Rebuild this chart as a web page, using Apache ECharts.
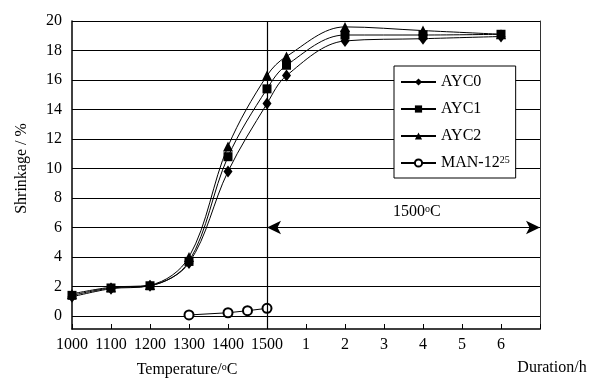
<!DOCTYPE html>
<html>
<head>
<meta charset="utf-8">
<script src="https://cdn.jsdelivr.net/npm/echarts@6/dist/echarts.min.js"></script>
<style>
  html, body { margin: 0; padding: 0; background: #fff; }
  #main { width: 601px; height: 379px; }
</style>
</head>
<body>
<div id="main"></div>
<script>
// x tick labels: heating temperatures then holding hours at 1500 oC
var tempTicks = ['1000', '1100', '1200', '1300', '1400', '1500'];
var hourTicks = ['1', '2', '3', '4', '5', '6'];
var xTicks = tempTicks.concat(hourTicks);

// measured temperatures and holding times
var temps = [1000, 1100, 1200, 1300, 1400, 1500];
var hours = [0.5, 2, 4, 6];

var ayc0 = [1.3, 1.85, 2.05, 3.6, 9.8, 14.4, 16.3, 18.65, 18.8, 18.95];
var ayc1 = [1.4, 1.9, 2.05, 3.7, 10.8, 15.4, 17.0, 19.05, 19.05, 19.1];
var ayc2 = [1.5, 1.95, 2.1, 4.0, 11.5, 16.3, 17.6, 19.6, 19.35, 19.1];

var manTemps = [1300, 1400, 1450, 1500];
var man12 = [0.07, 0.22, 0.36, 0.52];

// temperature -> axis position, hours -> after the 1500 position
function tPos(t) { return (t - 1000) / 100; }
function hPos(h) { return 5 + h; }
var xs = temps.map(tPos).concat(hours.map(hPos));

function pairs(xv, yv) {
  return yv.map(function (v, i) { return [xv[i], v]; });
}

var font = 'Liberation Serif';
var supRich = {
  sup: { fontFamily: font, fontSize: 10, lineHeight: 10, verticalAlign: 'top', color: '#000' }
};

var chart = echarts.init(document.getElementById('main'));

var option = {
  animation: false,
  backgroundColor: '#fff',
  textStyle: { fontFamily: font },
  grid: [
    { left: 72, right: 61, top: 21, bottom: 50 },
    { left: 72, right: 61, top: 21, bottom: 63 }
  ],
  xAxis: [{
    gridIndex: 0,
    type: 'value',
    min: 0,
    max: 12,
    interval: 1,
    axisLine: { show: true, onZero: false, lineStyle: { color: '#000', width: 1.5 } },
    axisTick: { show: true, inside: true, length: 5, lineStyle: { color: '#000' } },
    axisLabel: {
      margin: 8,
      fontFamily: font,
      fontSize: 16,
      color: '#000',
      formatter: function (v) { return xTicks[v] !== undefined ? xTicks[v] : ''; }
    },
    splitLine: { show: false }
  }, {
    gridIndex: 1,
    type: 'value',
    min: 0,
    max: 12,
    show: false
  }],
  yAxis: [{
    gridIndex: 0,
    type: 'value',
    min: 0,
    max: 1,
    axisLine: { show: true, onZero: false, lineStyle: { color: '#000', width: 1.5 } },
    axisTick: { show: false },
    axisLabel: { show: false },
    splitLine: { show: false }
  }, {
    gridIndex: 0,
    type: 'value',
    position: 'right',
    min: 0,
    max: 1,
    axisLine: { show: true, onZero: false, lineStyle: { color: '#333', width: 1 } },
    axisTick: { show: false },
    axisLabel: { show: false },
    splitLine: { show: false }
  }, {
    gridIndex: 1,
    type: 'value',
    min: 0,
    max: 20,
    interval: 2,
    name: 'Shrinkage / %',
    nameLocation: 'middle',
    nameGap: 42,
    nameTextStyle: { fontFamily: font, fontSize: 16, color: '#000' },
    axisLine: { show: false },
    axisTick: { show: false },
    axisLabel: { margin: 10, fontFamily: font, fontSize: 16, color: '#000' },
    splitLine: { show: true, lineStyle: { color: '#000', width: 1 } }
  }],
  legend: {
    left: 394,
    top: 66,
    orient: 'vertical',
    backgroundColor: '#fff',
    borderColor: '#000',
    borderWidth: 1,
    borderRadius: 0,
    padding: [8, 6, 7, 6],
    itemWidth: 35,
    itemHeight: 9,
    itemGap: 11,
    data: ['AYC0', 'AYC1', 'AYC2', 'MAN-12'],
    formatter: function (name) { return name === 'MAN-12' ? 'MAN-12{sup|25}' : name; },
    textStyle: { fontFamily: font, fontSize: 16, lineHeight: 16, color: '#000', rich: supRich }
  },
  series: [{
    name: 'frame',
    type: 'line',
    xAxisIndex: 0,
    yAxisIndex: 0,
    data: [],
    silent: true,
    markLine: {
      silent: true,
      symbol: ['none', 'none'],
      label: { show: false },
      lineStyle: { color: '#000', width: 1.2, type: 'solid' },
      data: [{ xAxis: tPos(1500) }]
    }
  }, {
    name: 'AYC0',
    type: 'line',
    xAxisIndex: 1,
    yAxisIndex: 2,
    smooth: 0.35,
    symbol: 'diamond',
    symbolSize: [9, 12],
    itemStyle: { color: '#000' },
    lineStyle: { color: '#000', width: 1 },
    data: pairs(xs, ayc0),
    markLine: {
      silent: true,
      symbol: ['arrow', 'arrow'],
      symbolSize: [10, 14],
      label: { show: false },
      lineStyle: { color: '#000', width: 1.2, type: 'solid' },
      data: [[{ coord: [tPos(1500), 6] }, { coord: [12, 6] }]]
    },
    markPoint: {
      silent: true,
      symbol: 'circle',
      symbolSize: 0,
      data: [{ coord: [8.84, 7.05] }],
      label: {
        show: true,
        position: 'inside',
        formatter: '1500{sup|o}C',
        fontFamily: font,
        fontSize: 16,
        lineHeight: 16,
        color: '#000',
        rich: supRich
      }
    }
  }, {
    name: 'AYC1',
    type: 'line',
    xAxisIndex: 1,
    yAxisIndex: 2,
    smooth: 0.35,
    symbol: 'rect',
    symbolSize: 9,
    itemStyle: { color: '#000' },
    lineStyle: { color: '#000', width: 1 },
    data: pairs(xs, ayc1)
  }, {
    name: 'AYC2',
    type: 'line',
    xAxisIndex: 1,
    yAxisIndex: 2,
    smooth: 0.35,
    symbol: 'triangle',
    symbolSize: [10, 10],
    itemStyle: { color: '#000' },
    lineStyle: { color: '#000', width: 1 },
    data: pairs(xs, ayc2)
  }, {
    name: 'MAN-12',
    type: 'line',
    xAxisIndex: 1,
    yAxisIndex: 2,
    symbol: 'emptyCircle',
    symbolSize: 9,
    itemStyle: { color: '#000', borderColor: '#000', borderWidth: 1 },
    lineStyle: { color: '#000', width: 1 },
    data: pairs(manTemps.map(tPos), man12)
  }],
  graphic: [{
    type: 'text',
    x: 187,
    y: 370,
    style: {
      text: 'Temperature/{sup|o}C',
      fontFamily: font,
      fontSize: 16,
      lineHeight: 16,
      fill: '#000',
      align: 'center',
      verticalAlign: 'middle',
      rich: supRich
    }
  }, {
    type: 'text',
    x: 552,
    y: 368,
    style: {
      text: 'Duration/h',
      fontFamily: font,
      fontSize: 16,
      fill: '#000',
      align: 'center',
      verticalAlign: 'middle'
    }
  }]
};

chart.setOption(option);
</script>
</body>
</html>
